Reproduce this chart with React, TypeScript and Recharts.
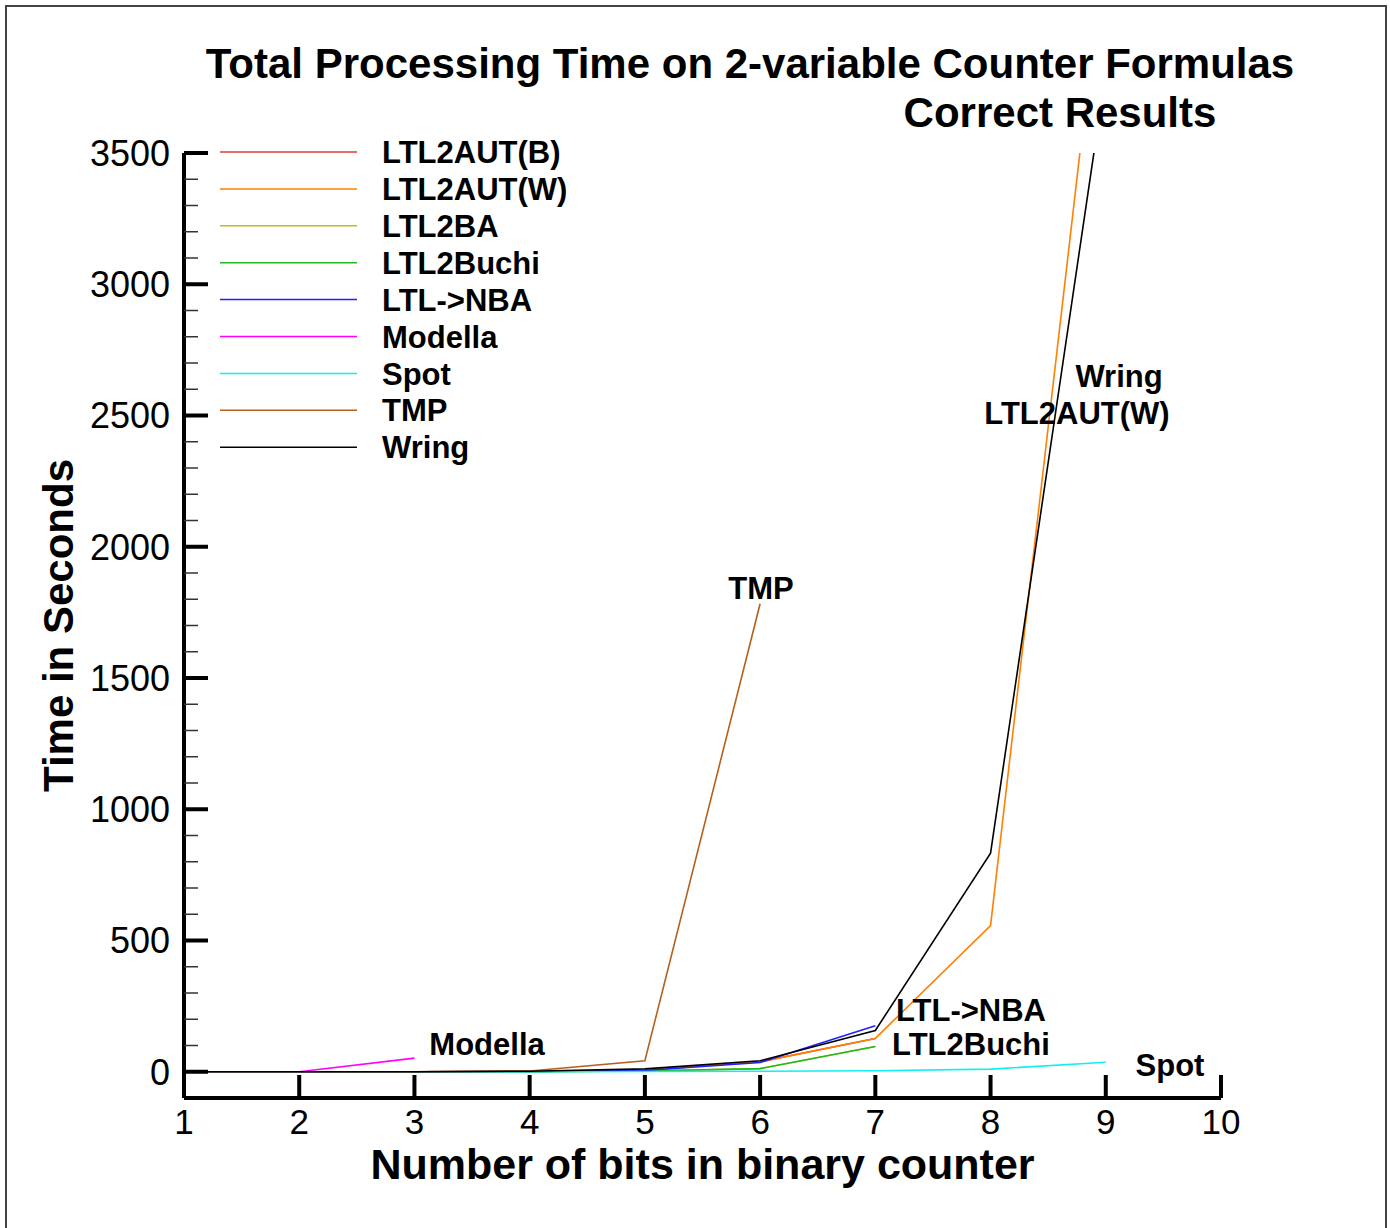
import React from 'react';
import { LineChart, Line, XAxis, YAxis, Legend, ReferenceDot, Label } from 'recharts';

const FONT = '"Liberation Sans", Arial, Helvetica, sans-serif';

// x: number of bits, y: seconds (series stop where the tool gave up)
const BITS = [1, 2, 3, 4, 5, 6, 7, 8, 9];
const LTL2AUT_B = [0, 0, 0, 1, 6, 38, 127];
const LTL2AUT_W = [0, 0, 0, 1, 6, 38, 127, 557, 4353];
const LTL2BA = [0, 0, 0, 0, 3, 12, 96];
const LTL2BUCHI = [0, 0, 0, 0, 3, 12, 96];
const LTL_NBA = [0, 0, 0, 1, 5, 35, 175];
const MODELLA = [0, 0, 52];
const SPOT = [0, 0, 0, 0, 1, 2, 4, 10, 36];
const TMP = [0, 0, 0, 3, 42, 1783];
const WRING = [0, 0, 0, 2, 11, 42, 157, 833, 3807];

const X_TICKS = [1, 2, 3, 4, 5, 6, 7, 8, 9, 10];
const Y_TICKS = Array.from({ length: 36 }, (_, i) => i * 100);

const SERIES = [
  { key: 'autB', name: 'LTL2AUT(B)', values: LTL2AUT_B, color: '#e03c3c' },
  { key: 'autW', name: 'LTL2AUT(W)', values: LTL2AUT_W, color: '#ff8000' },
  { key: 'ba', name: 'LTL2BA', values: LTL2BA, color: '#bcbc1c' },
  { key: 'buchi', name: 'LTL2Buchi', values: LTL2BUCHI, color: '#22bb22' },
  { key: 'nba', name: 'LTL->NBA', values: LTL_NBA, color: '#2020ff' },
  { key: 'modella', name: 'Modella', values: MODELLA, color: '#ff00ff' },
  { key: 'spot', name: 'Spot', values: SPOT, color: '#10f0f0' },
  { key: 'tmp', name: 'TMP', values: TMP, color: '#b5601c' },
  { key: 'wring', name: 'Wring', values: WRING, color: '#000000' },
];

const rows = BITS.map((n, i) => {
  const row: Record<string, number> = { n };
  SERIES.forEach((s) => {
    if (i < s.values.length) row[s.key] = s.values[i];
  });
  return row;
});

const Y_TICK_MARGIN = 14;
const X_TICK_MARGIN = 11;

const YTick = (props: any) => {
  const { x, y, payload } = props;
  const v = payload.value as number;
  const major = v % 500 === 0;
  const ax = x + Y_TICK_MARGIN;
  return (
    <g>
      <line
        x1={ax}
        x2={ax + (major ? 24 : 14)}
        y1={y}
        y2={y}
        stroke={major ? '#000' : '#333'}
        strokeWidth={major ? 4 : 1.5}
      />
      {major && (
        <text x={x} y={y} dy="0.36em" textAnchor="end" fontSize={36} fontFamily={FONT} fill="#000">
          {v}
        </text>
      )}
    </g>
  );
};

const XTick = (props: any) => {
  const { x, y, payload } = props;
  const ay = y - X_TICK_MARGIN;
  return (
    <g>
      <line x1={x} x2={x} y1={ay} y2={ay - 23} stroke="#000" strokeWidth={4} />
      <text x={x} y={y} dy="0.71em" textAnchor="middle" fontSize={35} fontFamily={FONT} fill="#000">
        {payload.value}
      </text>
    </g>
  );
};

const renderLegend = (props: any) => {
  const order = SERIES.map((s) => s.name);
  const items = [...(props.payload || [])].sort(
    (a: any, b: any) => order.indexOf(a.value) - order.indexOf(b.value),
  );
  return (
    <svg width={420} height={340} style={{ display: 'block' }}>
      {items.map((it: any, i: number) => {
        const cy = 20 + i * 36.9;
        return (
          <g key={it.value}>
            <line x1={5} x2={142} y1={cy} y2={cy} stroke={it.color} strokeWidth={1.5} />
            <text x={167} y={cy} dy="0.36em" fontSize={31} fontWeight={700} fontFamily={FONT} fill="#000">
              {it.value}
            </text>
          </g>
        );
      })}
    </svg>
  );
};

const noteLabel = (value: string) => ({
  value,
  position: 'center' as const,
  fontSize: 31,
  fontWeight: 700,
  fill: '#000',
  fontFamily: FONT,
});

export default function App() {
  return (
    <div style={{ position: 'absolute', left: 0, top: 0, width: 1390, height: 1228, background: '#fff', fontFamily: FONT }}>
      <div
        style={{
          position: 'absolute',
          left: 5,
          top: 5,
          width: 1378,
          height: 1223,
          borderLeft: '2px solid #444',
          borderTop: '2px solid #444',
          borderRight: '2px solid #444',
        }}
      />
      <LineChart width={1390} height={1228} data={rows} margin={{ top: 153, right: 169, bottom: 90, left: 104 }}>
        <XAxis
          dataKey="n"
          type="number"
          domain={[1, 10]}
          ticks={X_TICKS}
          interval={0}
          height={40}
          tickSize={0}
          tickMargin={X_TICK_MARGIN}
          tickLine={false}
          axisLine={{ stroke: '#000', strokeWidth: 4 }}
          tick={<XTick />}
        >
          <Label
            value="Number of bits in binary counter"
            position="bottom"
            offset={10}
            fontSize={43}
            fontWeight={700}
            fill="#000"
            fontFamily={FONT}
          />
        </XAxis>
        <YAxis
          type="number"
          domain={[-100, 3500]}
          allowDataOverflow
          ticks={Y_TICKS}
          interval={0}
          width={80}
          tickSize={0}
          tickMargin={Y_TICK_MARGIN}
          tickLine={false}
          axisLine={{ stroke: '#000', strokeWidth: 4 }}
          tick={<YTick />}
        >
          <Label
            content={(p: any) => {
              const vb = p.viewBox || { x: 104, y: 153, width: 80, height: 945 };
              const cx = vb.x - 46;
              const cy = vb.y + vb.height / 2;
              return (
                <text
                  x={cx}
                  y={cy}
                  dy="0.36em"
                  textAnchor="middle"
                  fontSize={42}
                  fontWeight={700}
                  fontFamily={FONT}
                  fill="#000"
                  transform={`rotate(-90 ${cx} ${cy})`}
                >
                  Time in Seconds
                </text>
              );
            }}
          />
        </YAxis>
        <Legend
          layout="vertical"
          align="center"
          verticalAlign="middle"
          wrapperStyle={{ position: 'absolute', left: 215, top: 132, width: 420, height: 340 }}
          content={renderLegend}
        />
        {SERIES.map((s) => (
          <Line
            key={s.key}
            dataKey={s.key}
            name={s.name}
            type="linear"
            stroke={s.color}
            strokeWidth={1.6}
            dot={false}
            activeDot={false}
            isAnimationActive={false}
          />
        ))}
        <ReferenceDot x={3.63} y={107} r={0} stroke="none" label={noteLabel('Modella')} />
        <ReferenceDot x={6.008} y={1844} r={0} stroke="none" label={noteLabel('TMP')} />
        <ReferenceDot x={9.115} y={2651} r={0} stroke="none" label={noteLabel('Wring')} />
        <ReferenceDot x={8.75} y={2510} r={0} stroke="none" label={noteLabel('LTL2AUT(W)')} />
        <ReferenceDot x={7.83} y={236} r={0} stroke="none" label={noteLabel('LTL->NBA')} />
        <ReferenceDot x={7.83} y={107} r={0} stroke="none" label={noteLabel('LTL2Buchi')} />
        <ReferenceDot x={9.557} y={27} r={0} stroke="none" label={noteLabel('Spot')} />
      </LineChart>
      <svg width={1390} height={140} style={{ position: 'absolute', left: 0, top: 0, pointerEvents: 'none' }}>
        <text x={750} y={78} textAnchor="middle" fontSize={42} fontWeight={700} fontFamily={FONT} fill="#000">
          Total Processing Time on 2-variable Counter Formulas
        </text>
        <text x={1060} y={127} textAnchor="middle" fontSize={42} fontWeight={700} fontFamily={FONT} fill="#000">
          Correct Results
        </text>
      </svg>
    </div>
  );
}
